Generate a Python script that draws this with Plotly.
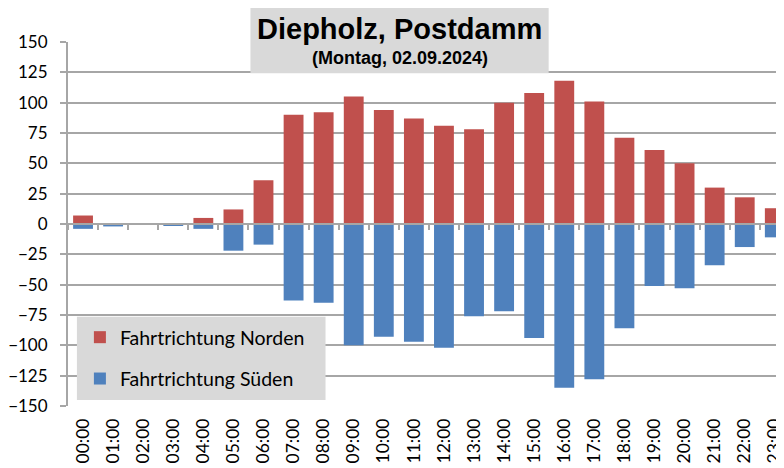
import plotly.graph_objects as go

hours = ["00:00", "01:00", "02:00", "03:00", "04:00", "05:00", "06:00", "07:00",
         "08:00", "09:00", "10:00", "11:00", "12:00", "13:00", "14:00", "15:00",
         "16:00", "17:00", "18:00", "19:00", "20:00", "21:00", "22:00", "23:00"]
north = [7, 0, 0, 0, 5, 12, 36, 90, 92, 105, 94, 87, 81, 78, 100, 108, 118, 101, 71, 61, 50, 30, 22, 13]
south = [-4, -2, 0, -1, -4, -22, -17, -63, -65, -100, -93, -97, -102, -76, -72, -94, -135, -128, -86, -51, -53, -34, -19, -11]
ytick_vals = [150, 125, 100, 75, 50, 25, 0, -25, -50, -75, -100, -125, -150]

title = "Diepholz, Postdamm"
subtitle = "(Montag, 02.09.2024)"
name_n = "Fahrtrichtung Norden"
name_s = "Fahrtrichtung Süden"

# page body has an 8px margin; work in window pixels and convert
OFF = 8
W, H = 784 - OFF, 468 - OFF
L, R, T, B = 66, 784, 42, 406          # plot area in window pixels
pw, ph = R - L, B - T
cat_w = 30.33


def px(x):
    return (x - L) / pw


def py(y):
    return (B - y) / ph


GRID = "#A6A6A6"
FONT = "Lato, Open Sans, sans-serif"

fig = go.Figure()
fig.add_trace(go.Bar(x=hours, y=north, name=name_n, marker_color="#C0504D",
                     marker_line_width=0, legendgroup="n"))
fig.add_trace(go.Bar(x=hours, y=south, name=name_s, marker_color="#4F81BD",
                     marker_line_width=0, legendgroup="s"))
fig.add_trace(go.Scatter(x=[], y=[], xaxis="x2", showlegend=False, hoverinfo="skip"))

xr = [-0.5, -0.5 + pw / cat_w]
boundaries = [i - 0.5 for i in range(len(hours) + 1)]

fig.update_layout(
    width=W, height=H,
    margin=dict(l=L - OFF, r=0, t=T - OFF, b=(H + OFF) - B, pad=0),
    paper_bgcolor="white", plot_bgcolor="white",
    barmode="relative", bargap=0.34,
    font=dict(family=FONT, size=17, color="black"),
    xaxis=dict(range=xr, showgrid=False, zeroline=False, showline=False,
               ticks="", tickangle=-90, tickfont=dict(size=17.5, family=FONT),
               type="category", ticklabelstandoff=8),
    xaxis2=dict(range=xr, overlaying="x", anchor="free", position=0.5,
                showgrid=False, zeroline=False, showline=True, linecolor=GRID,
                linewidth=2, ticks="outside", ticklen=5, tickwidth=1.5,
                tickcolor=GRID, tickvals=boundaries, showticklabels=False,
                layer="above traces"),
    yaxis=dict(range=[-150, 150], tickvals=ytick_vals, showgrid=True,
               gridcolor=GRID, gridwidth=1.6, zeroline=False,
               showline=True, linecolor=GRID, linewidth=2,
               ticks="outside", ticklen=6, tickwidth=1.6, tickcolor=GRID,
               tickfont=dict(size=17, family=FONT), ticklabelstandoff=9),
    legend=dict(x=px(78), y=py(318), xanchor="left", yanchor="top",
                bgcolor="rgba(0,0,0,0)", borderwidth=0,
                font=dict(size=19.5, family=FONT, color="black"),
                tracegroupgap=13, traceorder="grouped"),
    showlegend=True,
    shapes=[
        dict(type="rect", xref="paper", yref="paper", x0=px(250), x1=px(550.7),
             y0=py(73.3), y1=py(6), fillcolor="#D9D9D9", line_width=0, layer="above"),
        dict(type="rect", xref="paper", yref="paper", x0=px(75), x1=px(325.7),
             y0=py(400), y1=py(316.7), fillcolor="#D9D9D9", line_width=0, layer="above"),
    ],
    annotations=[
        dict(text="<b>" + title + "</b>", xref="paper", yref="paper", x=px(400.5),
             y=py(29), xanchor="center", yanchor="middle", showarrow=False,
             font=dict(family="Liberation Sans, Arial, sans-serif", size=29, color="black")),
        dict(text="<b>" + subtitle + "</b>", xref="paper", yref="paper", x=px(400.5),
             y=py(58), xanchor="center", yanchor="middle", showarrow=False,
             font=dict(family="Liberation Sans, Arial, sans-serif", size=18, color="black")),
    ],
)

fig.write_html("out.html")
